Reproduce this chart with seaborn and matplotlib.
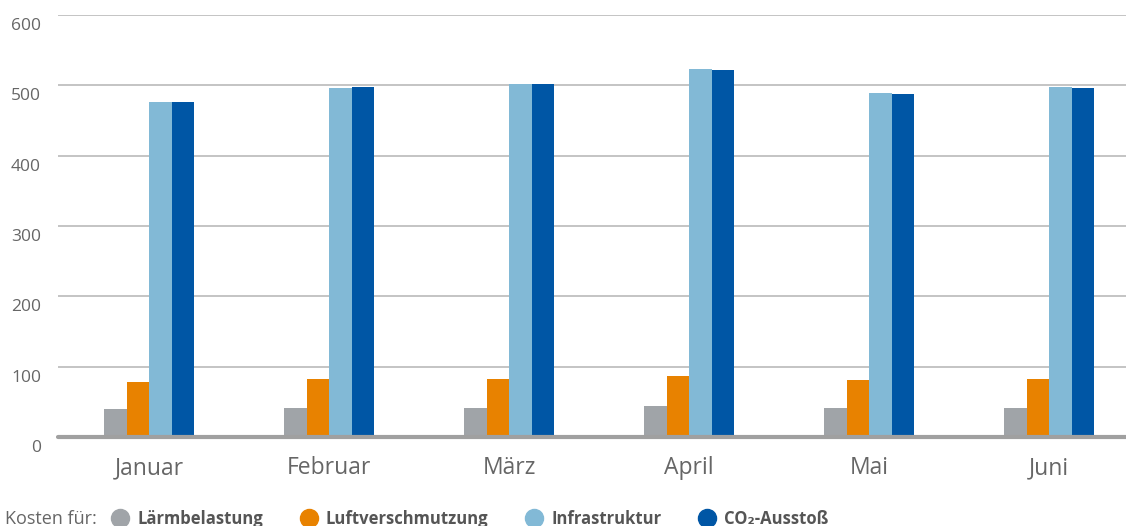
import pandas as pd
import matplotlib
import matplotlib.pyplot as plt
import seaborn as sns
from matplotlib.lines import Line2D
from matplotlib.transforms import offset_copy
matplotlib.use('Agg')

# Daten (Kosten pro Monat)
monate = ['Januar', 'Februar', 'März', 'April', 'Mai', 'Juni']
laerm = [40, 41, 41, 44, 41, 41]
luft = [78, 82, 82, 87, 81, 82]
infra = [476, 496, 502, 523, 489, 497]
co2 = [476, 498, 502, 522, 488, 496]
kategorien = ['Lärmbelastung', 'Luftverschmutzung', 'Infrastruktur', 'CO₂-Ausstoß']
farben = ['#A0A4A8', '#E88200', '#82B9D6', '#0056A5']
yticks = [0, 100, 200, 300, 400, 500, 600]

df = pd.DataFrame({'Monat': monate, kategorien[0]: laerm, kategorien[1]: luft,
                   kategorien[2]: infra, kategorien[3]: co2})
df_long = df.melt(id_vars='Monat', var_name='Kategorie', value_name='Kosten')

sns.set_style('white')
plt.rcParams['font.family'] = ['Open Sans', 'DejaVu Sans']
textfarbe = '#666666'

fig = plt.figure(figsize=(11.26, 5.26), dpi=100)
ax = fig.add_axes([58 / 1126, 89 / 526, 1068 / 1126, 422 / 526])

sns.barplot(data=df_long, x='Monat', y='Kosten', hue='Kategorie', hue_order=kategorien,
            palette=farben, width=0.5, saturation=1, linewidth=0, ax=ax,
            legend=False, zorder=3)

# Gruppenabstand 180 px, erste Gruppe bei x=149 px
ax.set_xlim((58 - 149) / 180, (1126 - 149) / 180)
ax.set_ylim(0, 600)
ax.set_yticks(yticks[1:])
ax.set_yticklabels([])
ax.grid(axis='y', color='#C4C4C4', linewidth=1.4, zorder=0)
ax.grid(axis='x', visible=False)
for s in ax.spines.values():
    s.set_visible(False)
ax.axhline(0, color='#A0A0A0', linewidth=3, zorder=4, clip_on=False)

# y-Beschriftungen leicht unter den Linien
trans = offset_copy(ax.get_yaxis_transform(), fig=fig, x=-17, y=-11, units='dots')
for v in yticks:
    ax.text(0, v, str(v), transform=trans, ha='right', va='center',
            fontsize=12.5, color=textfarbe)

ax.set_xlabel('')
ax.set_ylabel('')
ax.tick_params(axis='x', length=0, pad=14, labelsize=16.5, labelcolor=textfarbe)
ax.tick_params(axis='y', length=0)

# Legende unten
fig.text(5 / 1126, 7 / 526, 'Kosten für:', ha='left', va='center', fontsize=13, color=textfarbe)
handles = [Line2D([], [], marker='o', linestyle='', markersize=13, color=c) for c in farben]
fig.legend(handles, kategorien, loc='center left', bbox_to_anchor=(112 / 1126, 7 / 526),
           ncol=4, frameon=False, handlelength=1.0, handletextpad=0.52, columnspacing=2.25,
           borderpad=0, borderaxespad=0,
           prop={'weight': 'bold', 'size': 12}, labelcolor='#555555')

fig.savefig('out.png', dpi=100)
